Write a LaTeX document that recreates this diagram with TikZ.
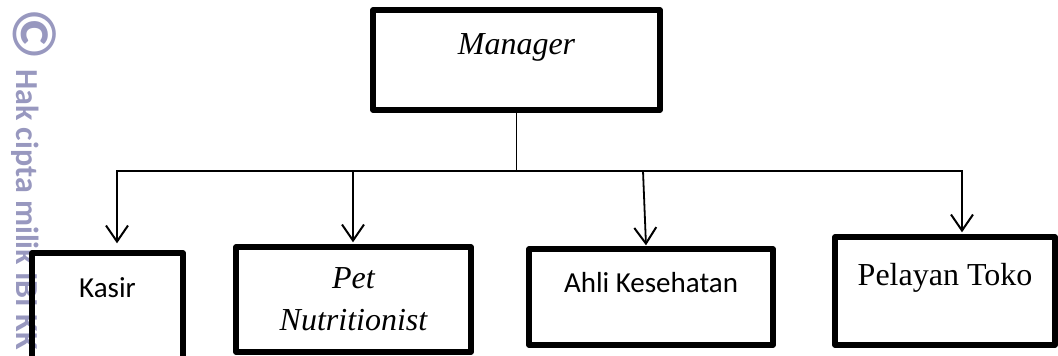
\documentclass[tikz,border=0pt]{standalone}
\usepackage{fontspec}
\setmainfont{Liberation Serif}
\newfontfamily\calibri{Carlito}
\usetikzlibrary{arrows.meta, positioning, calc}
\definecolor{wmgray}{RGB}{152, 152, 191}

\begin{document}
\begin{tikzpicture}[
    x=0.5pt, y=-0.5pt,
    box/.style={rectangle, draw=black, line width=2.7pt, line join=round, inner sep=2pt, text centered, align=center},
    serif/.style={font=\fontsize{16}{21}\selectfont},
    serifit/.style={font=\fontsize{16}{21}\selectfont\itshape},
    sans/.style={font=\calibri\fontsize{14.5}{18}\selectfont},
    wm/.style={text=wmgray, rotate=-90, inner sep=0pt},
    link/.style={line width=0.9pt},
    arrow/.style={line width=0.9pt, -{Straight Barb[length=8pt, width=11pt, line width=1pt]}}
]
\useasboundingbox (0,0) rectangle (1058,356);

% Watermark
\node[wm, font=\calibri\bfseries\fontsize{31}{31}\selectfont] (copyr) at (35,34) {©};
\node[wm, anchor=base west, font=\calibri\bfseries\fontsize{16}{16}\selectfont] (hakcipta) at (17,69) {Hak cipta milik IBI KK};

% Top
\node[box, serifit, minimum width=143.5pt, minimum height=50pt, text height=11pt, text depth=16pt] (manager) at (516.5,60) {Manager};

% Staff
\node[box, sans, minimum width=75.5pt, minimum height=63.5pt, text height=10pt, text depth=28.5pt] (kasir) at (107.5,316.5) {Kasir};
\node[box, serifit, minimum width=117.5pt, minimum height=52.5pt] (pet) at (353.5,299.5) {Pet\\Nutritionist};
\node[box, sans, minimum width=122pt, minimum height=48pt, text height=10pt, text depth=14pt] (ahli) at (651,297) {Ahli Kesehatan};
\node[box, serif, minimum width=110pt, minimum height=54pt, text height=11pt, text depth=16pt] (toko) at (945,291) {Pelayan Toko};

% Bus
\coordinate (junction) at (manager.south |- 0,171);
\coordinate (bus pet) at (353,171);
\coordinate (bus ahli) at (643,171);
\coordinate (kasir tip) at ($(117,0 |- kasir.north)+(0,-7)$);
\coordinate (toko tip) at ($(962,0 |- toko.north)+(0,-2)$);

% Arrows
\draw[link] (manager.south) -- (junction);
\draw[arrow] (junction) -| (kasir tip);
\draw[arrow] (junction) -| (toko tip);
\draw[arrow] (bus pet) -- ($(bus pet |- pet.north)+(0,-2)$);
\draw[arrow] (bus ahli) -- ($(ahli.north)+(-5,-1)$);

\end{tikzpicture}
\end{document}
